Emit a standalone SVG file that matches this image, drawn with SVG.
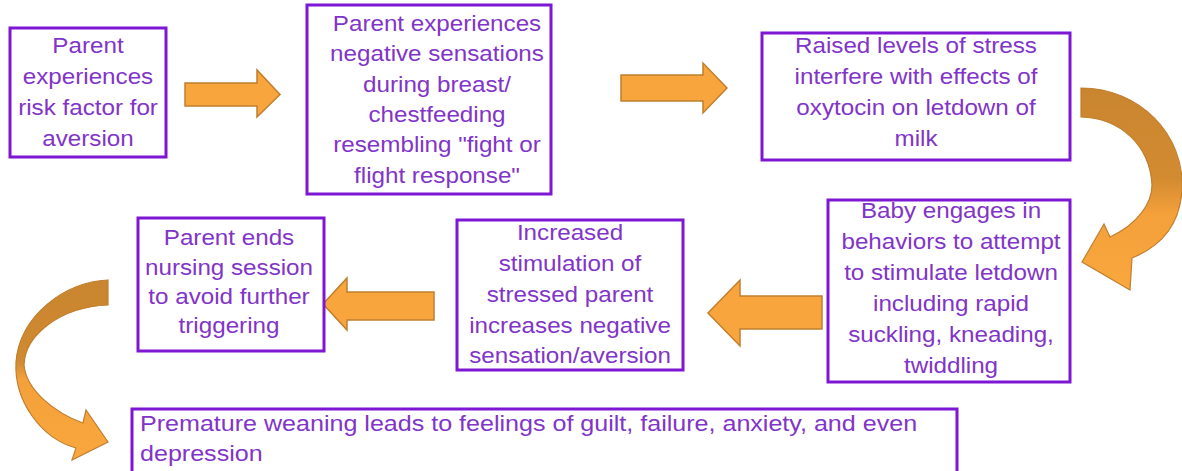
<svg xmlns="http://www.w3.org/2000/svg" width="1182" height="471" viewBox="0 0 1182 471">
<defs>
<style>
.box{fill:#ffffff;stroke:#7d17d4;stroke-width:3}
.t{font-family:"Liberation Sans",Arial,sans-serif;font-size:22px;fill:#8234c8;text-anchor:middle}
.tl{font-family:"Liberation Sans",Arial,sans-serif;font-size:22px;fill:#8234c8;text-anchor:start}
.arr{fill:#f8a53d;stroke:#c07f2e;stroke-width:1.5;stroke-linejoin:miter}
.carr{stroke:#c07f2e;stroke-width:1.2}
</style>
<linearGradient id="gr" x1="0" y1="0" x2="0" y2="1">
<stop offset="0" stop-color="#c9852f"/>
<stop offset="0.45" stop-color="#d38b31"/>
<stop offset="0.62" stop-color="#f4a03b"/>
<stop offset="1" stop-color="#f9a73e"/>
</linearGradient>
<linearGradient id="gl" x1="0" y1="0" x2="0" y2="1">
<stop offset="0" stop-color="#c9852f"/>
<stop offset="0.45" stop-color="#d08a31"/>
<stop offset="0.55" stop-color="#f4a03b"/>
<stop offset="1" stop-color="#f9a73e"/>
</linearGradient>
</defs>
<rect width="1182" height="471" fill="#ffffff"/>

<g id="connectors">
<path class="arr" d="M185 83 L257 83 L257 70 L280 94.5 L257 117 L257 106 L185 106 Z"/>
<path class="arr" d="M621 75 L703 75 L703 63 L727 88 L703 113 L703 101 L621 101 Z"/>
<path class="carr" fill="url(#gr)" d="M1081 88 C1140 88 1185 135 1182 190 C1180 224 1162 246 1132 258 L1130 290 L1082 262 L1104 224 L1110 237 C1138 224 1152 203 1152 185 C1150 145 1120 118 1081 117 Z"/>
<path class="arr" d="M822 296 L740 296 L740 280 L708 313 L740 346 L740 329 L822 329 Z"/>
<path class="arr" d="M434 292 L347 292 L347 278 L323 304 L347 330 L347 320 L434 320 Z"/>
<path class="carr" fill="url(#gl)" d="M108 280 C65 282 20 315 16 362 C14 400 40 438 76 448 L72 460 L108 442 L86 410 L83 423 C55 413 26 390 24 365 C25 335 60 307 108 305 Z"/>
</g>

<g id="n1">
<rect class="box" x="10" y="28" width="156" height="129"/>
<g transform="translate(88 0) scale(1.1 1)">
<text class="t" x="0" y="53">Parent</text>
<text class="t" x="0" y="84">experiences</text>
<text class="t" x="0" y="115">risk factor for</text>
<text class="t" x="0" y="146">aversion</text>
</g>
</g>

<g id="n2">
<rect class="box" x="307" y="5" width="244" height="189"/>
<g transform="translate(437 0) scale(1.1 1)">
<text class="t" x="0" y="31">Parent experiences</text>
<text class="t" x="0" y="61.5">negative sensations</text>
<text class="t" x="0" y="92">during breast/</text>
<text class="t" x="0" y="122">chestfeeding</text>
<text class="t" x="0" y="152.5">resembling "fight or</text>
<text class="t" x="0" y="183">flight response"</text>
</g>
</g>

<g id="n3">
<rect class="box" x="762" y="33" width="308" height="127"/>
<g transform="translate(916 0) scale(1.1 1)">
<text class="t" x="0" y="53">Raised levels of stress</text>
<text class="t" x="0" y="84">interfere with effects of</text>
<text class="t" x="0" y="115">oxytocin on letdown of</text>
<text class="t" x="0" y="146">milk</text>
</g>
</g>

<g id="n4">
<rect class="box" x="828" y="200" width="242" height="182"/>
<g transform="translate(951 0) scale(1.1 1)">
<text class="t" x="0" y="218">Baby engages in</text>
<text class="t" x="0" y="249">behaviors to attempt</text>
<text class="t" x="0" y="280">to stimulate letdown</text>
<text class="t" x="0" y="311">including rapid</text>
<text class="t" x="0" y="342">suckling, kneading,</text>
<text class="t" x="0" y="373">twiddling</text>
</g>
</g>

<g id="n5">
<rect class="box" x="457" y="220" width="226" height="150"/>
<g transform="translate(570 0) scale(1.1 1)">
<text class="t" x="0" y="240">Increased</text>
<text class="t" x="0" y="271">stimulation of</text>
<text class="t" x="0" y="302">stressed parent</text>
<text class="t" x="0" y="333">increases negative</text>
<text class="t" x="0" y="363">sensation/aversion</text>
</g>
</g>

<g id="n6">
<rect class="box" x="138" y="218" width="186" height="133"/>
<g transform="translate(229 0) scale(1.1 1)">
<text class="t" x="0" y="245">Parent ends</text>
<text class="t" x="0" y="275">nursing session</text>
<text class="t" x="0" y="304">to avoid further</text>
<text class="t" x="0" y="333">triggering</text>
</g>
</g>

<g id="n7">
<rect class="box" x="132" y="409" width="825" height="80"/>
<g transform="translate(140 0) scale(1.14 1)">
<text class="tl" x="0" y="431">Premature weaning leads to feelings of guilt, failure, anxiety, and even</text>
<text class="tl" x="0" y="461">depression</text>
</g>
</g>
</svg>
